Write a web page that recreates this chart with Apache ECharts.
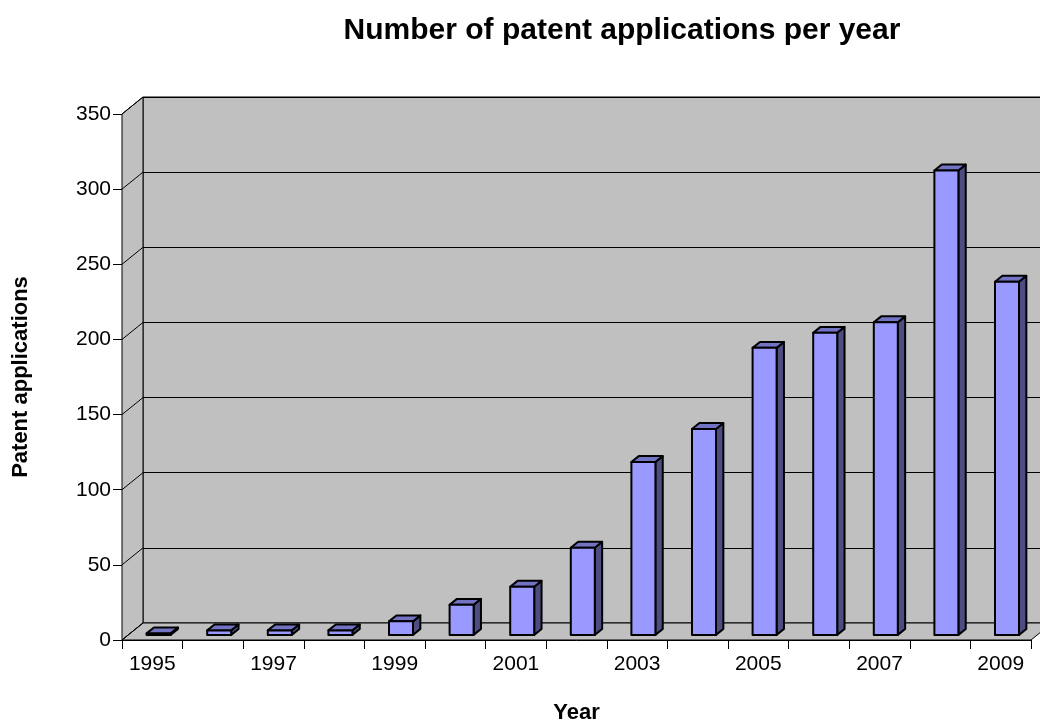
<!DOCTYPE html>
<html>
<head>
<meta charset="utf-8">
<title>Number of patent applications per year</title>
<script src="https://cdn.jsdelivr.net/npm/echarts@6/dist/echarts.min.js"></script>
<style>
  html, body { margin: 0; padding: 0; background: #ffffff; }
  #chart { width: 1040px; height: 722px; }
</style>
</head>
<body>
<div id="chart"></div>
<script>
// Years on the category axis
const years = ['1995', '1996', '1997', '1998', '1999', '2000', '2001', '2002',
               '2003', '2004', '2005', '2006', '2007', '2008', '2009'];
// Patent applications filed in each year
const applications = [1, 3, 3, 3, 9, 20, 32, 58, 115, 137, 191, 201, 208, 309, 235];
// Value axis ticks
const yTicks = [0, 50, 100, 150, 200, 250, 300, 350];

const FONT = '"Liberation Sans", Arial, sans-serif';

// Perspective depth of the chart box (floor / side wall), in pixels
const DEPTH_X = 21;
const DEPTH_Y = 17;
// Column placement inside the depth and column thickness (fractions of the depth)
const COL_FRONT = 0.3;
const COL_DEPTH = 0.35;
const COL_WIDTH = 24;

const yMin = yTicks[0];
const yMax = yTicks[yTicks.length - 1];
const yStep = yTicks[1] - yTicks[0];

const chart = echarts.init(document.getElementById('chart'), null, { renderer: 'canvas' });

// Left side wall and floor of the 3D box, including the wall's slanted gridlines
function renderWalls(params, api) {
  const cs = params.coordSys;
  const xl = cs.x, xr = cs.x + cs.width;
  const yb = api.coord([0, yMin])[1];
  const yt = api.coord([0, yMax])[1];
  const fill = '#c0c0c0';
  const stroke = { stroke: '#000', lineWidth: 1 };
  const children = [
    {
      type: 'polygon',
      shape: { points: [[xl, yb], [xl, yt], [xl + DEPTH_X, yt - DEPTH_Y], [xl + DEPTH_X, yb - DEPTH_Y]] },
      style: Object.assign({ fill: fill }, stroke)
    },
    {
      type: 'polygon',
      shape: { points: [[xl, yb], [xr, yb], [xr + DEPTH_X, yb - DEPTH_Y], [xl + DEPTH_X, yb - DEPTH_Y]] },
      style: Object.assign({ fill: fill }, stroke)
    }
  ];
  yTicks.forEach(function (t) {
    const y = api.coord([0, t])[1];
    children.push({
      type: 'line',
      shape: { x1: xl, y1: y, x2: xl + DEPTH_X, y2: y - DEPTH_Y },
      style: stroke
    });
  });
  return { type: 'group', children: children };
}

// One 3D column: front, top and side faces
function renderColumn(params, api) {
  const idx = api.value(0);
  const val = api.value(1);
  const base = api.coord([idx, 0]);
  const top = api.coord([idx, val]);
  const ox = COL_FRONT * DEPTH_X, oy = COL_FRONT * DEPTH_Y;
  const dx = COL_DEPTH * DEPTH_X, dy = COL_DEPTH * DEPTH_Y;
  const x0 = base[0] - COL_WIDTH / 2 + ox;
  const x1 = x0 + COL_WIDTH;
  const yb = base[1] - oy;
  const yt = top[1] - oy;
  const line = { stroke: '#000', lineWidth: 2, lineJoin: 'round' };
  return {
    type: 'group',
    children: [
      {
        type: 'polygon',
        shape: { points: [[x1, yb], [x1, yt], [x1 + dx, yt - dy], [x1 + dx, yb - dy]] },
        style: Object.assign({ fill: '#4d4d82' }, line)
      },
      {
        type: 'polygon',
        shape: { points: [[x0, yt], [x1, yt], [x1 + dx, yt - dy], [x0 + dx, yt - dy]] },
        style: Object.assign({ fill: '#7373c4' }, line)
      },
      {
        type: 'rect',
        shape: { x: x0, y: yt, width: COL_WIDTH, height: yb - yt },
        style: Object.assign({ fill: '#9999ff' }, line)
      }
    ]
  };
}

const option = {
  backgroundColor: '#ffffff',
  animation: false,
  textStyle: { fontFamily: FONT },
  graphic: [
    {
      type: 'text',
      x: 622,
      y: 31,
      style: {
        text: 'Number of patent applications per year',
        font: 'bold 30px ' + FONT,
        fill: '#000',
        textAlign: 'center',
        textVerticalAlign: 'middle'
      }
    }
  ],
  grid: [
    // front plane: axes, ticks and labels
    { left: 122, top: 114, width: 909, bottom: 82, outerBoundsMode: 'none', containLabel: false },
    // back wall of the box
    {
      left: 122 + DEPTH_X, top: 114 - DEPTH_Y, width: 909, bottom: 82 + DEPTH_Y,
      outerBoundsMode: 'none', containLabel: false,
      show: true, backgroundColor: '#c0c0c0', borderColor: '#000', borderWidth: 1
    }
  ],
  xAxis: [
    {
      type: 'category',
      gridIndex: 0,
      data: years,
      boundaryGap: true,
      name: 'Year',
      nameLocation: 'middle',
      nameGap: 62,
      nameTextStyle: { fontSize: 22, fontWeight: 'bold', color: '#000', fontFamily: FONT },
      axisLine: { show: true, lineStyle: { color: '#000', width: 1 } },
      axisTick: { show: true, interval: 0, length: 9, alignWithLabel: false, lineStyle: { color: '#000' } },
      axisLabel: { interval: 1, fontSize: 21, color: '#000', margin: 14, fontFamily: FONT },
      splitLine: { show: false }
    },
    {
      type: 'category',
      gridIndex: 1,
      data: years,
      show: false
    }
  ],
  yAxis: [
    {
      type: 'value',
      gridIndex: 0,
      min: yMin,
      max: yMax,
      interval: yStep,
      name: 'Patent applications',
      nameLocation: 'middle',
      nameGap: 90,
      nameTextStyle: { fontSize: 22, fontWeight: 'bold', color: '#000', fontFamily: FONT },
      axisLine: { show: true, lineStyle: { color: '#000', width: 1 } },
      axisTick: { show: true, length: 9, lineStyle: { color: '#000' } },
      axisLabel: { fontSize: 21, color: '#000', margin: 11, fontFamily: FONT },
      splitLine: { show: false }
    },
    {
      type: 'value',
      gridIndex: 1,
      min: yMin,
      max: yMax,
      interval: yStep,
      axisLine: { show: false },
      axisTick: { show: false },
      axisLabel: { show: false },
      splitLine: { show: true, lineStyle: { color: '#000', width: 1 } }
    }
  ],
  series: [
    {
      type: 'custom',
      name: 'walls',
      xAxisIndex: 0,
      yAxisIndex: 0,
      z: 1,
      silent: true,
      data: [[0, 0]],
      renderItem: renderWalls
    },
    {
      type: 'custom',
      name: 'Patent applications',
      xAxisIndex: 0,
      yAxisIndex: 0,
      z: 2,
      data: applications.map(function (v, i) { return [i, v]; }),
      renderItem: renderColumn
    }
  ]
};

chart.setOption(option);
</script>
</body>
</html>
